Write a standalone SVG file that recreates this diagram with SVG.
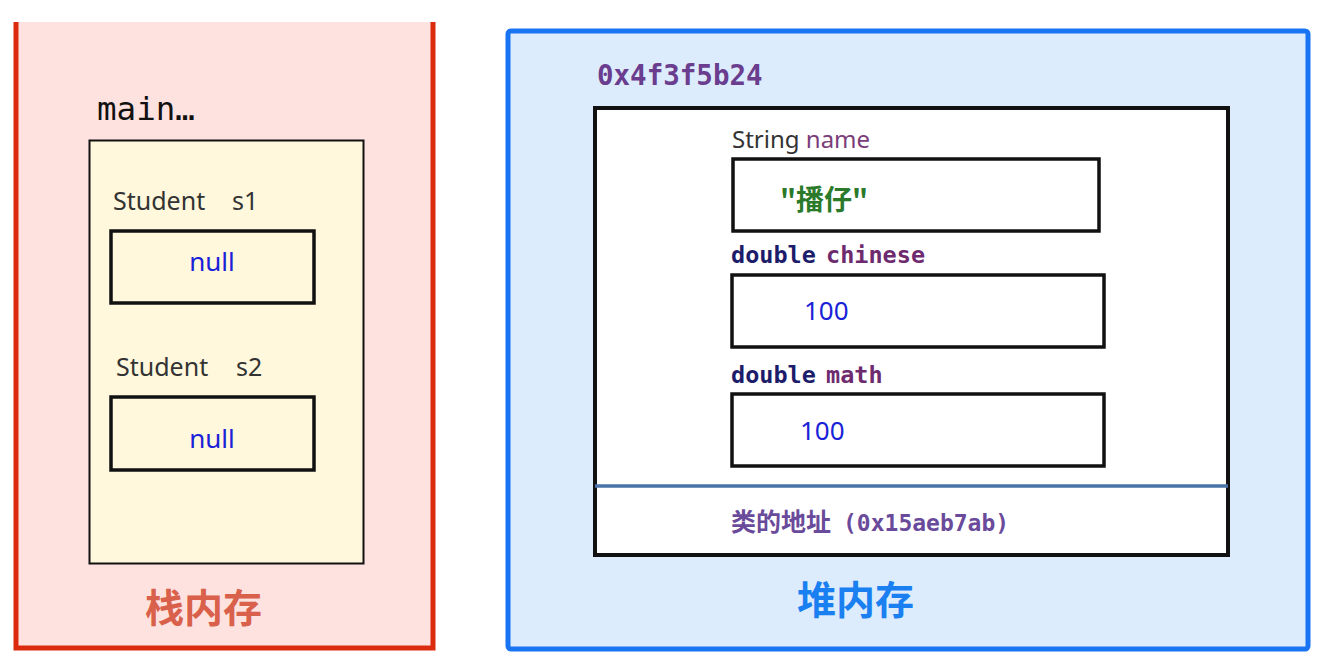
<svg xmlns="http://www.w3.org/2000/svg" width="1342" height="670" viewBox="0 0 1342 670">
<style>
.sans{font-family:"Noto Sans","Open Sans",sans-serif}
.mono{font-family:"DejaVu Sans Mono","Liberation Mono",monospace}
.cjk{font-family:"Noto Sans CJK SC",sans-serif;font-weight:bold}
.box{fill:none;stroke:#111;stroke-width:3.5}
.val{fill:#1a22d8;font-size:26px}
.lbl{fill:#333;font-size:25px}
.type{fill:#1c1c6a;font-weight:bold}
.fld{fill:#6e2a6e;font-weight:bold}
</style>
<rect width="1342" height="670" fill="#ffffff"/>
<g id="stack">
<rect x="16" y="22" width="417" height="626" fill="#fde2df"/>
<path d="M16 22 V648 H433 V22" fill="none" stroke="#dc2a0e" stroke-width="5"/>
<text x="145" y="622" class="cjk" font-size="39" fill="#d9604a">栈内存</text>
</g>
<g id="frame-main">
<text x="97" y="120" class="mono" font-size="32.5" fill="#111">main…</text>
<rect x="89.5" y="140.5" width="274" height="423" fill="#fff8dc" stroke="#111" stroke-width="2"/>
</g>
<g id="var-s1">
<text x="113" y="210" class="sans lbl">Student<tspan x="232">s1</tspan></text>
<rect x="111" y="231" width="203" height="72" class="box"/>
<text x="212" y="271" text-anchor="middle" class="sans val">null</text>
</g>
<g id="var-s2">
<text x="116" y="376" class="sans lbl">Student<tspan x="236">s2</tspan></text>
<rect x="111" y="397" width="203" height="73" class="box"/>
<text x="212" y="448" text-anchor="middle" class="sans val">null</text>
</g>
<g id="heap">
<rect x="508" y="31" width="800" height="618" rx="3" fill="#dcecfc" stroke="#1874f2" stroke-width="5"/>
<text x="797" y="614" class="cjk" font-size="39" fill="#1a7ff0">堆内存</text>
</g>
<g id="object">
<text x="597" y="85" class="mono" font-size="27.5" font-weight="bold" fill="#6a3d8f">0x4f3f5b24</text>
<rect x="595" y="108" width="633" height="447" fill="#ffffff" stroke="#111" stroke-width="4"/>
<line x1="595" y1="486" x2="1228" y2="486" stroke="#4a74a8" stroke-width="3.5"/>
<text x="731" y="531" font-size="23" font-weight="bold" fill="#6a4a9a" class="mono"><tspan class="cjk" font-size="25">类的地址</tspan><tspan x="843">(0x15aeb7ab)</tspan></text>
</g>
<g id="field-name">
<text x="732" y="148" class="sans" font-size="24"><tspan fill="#333">String</tspan> <tspan fill="#7a3d7a">name</tspan></text>
<rect x="733" y="159" width="366" height="72" class="box"/>
<text x="780" y="210" class="cjk" font-size="28" fill="#2a7a2a">"播仔"</text>
</g>
<g id="field-chinese">
<text x="731" y="263" class="mono" font-size="23.5"><tspan class="type">double</tspan><tspan class="fld" x="826">chinese</tspan></text>
<rect x="732" y="275" width="372" height="72" class="box"/>
<text x="804" y="320" class="sans val">100</text>
</g>
<g id="field-math">
<text x="731" y="383" class="mono" font-size="23.5"><tspan class="type">double</tspan><tspan class="fld" x="826">math</tspan></text>
<rect x="732" y="394" width="372" height="72" class="box"/>
<text x="800" y="440" class="sans val">100</text>
</g>
<g id="connectors"/>
</svg>
